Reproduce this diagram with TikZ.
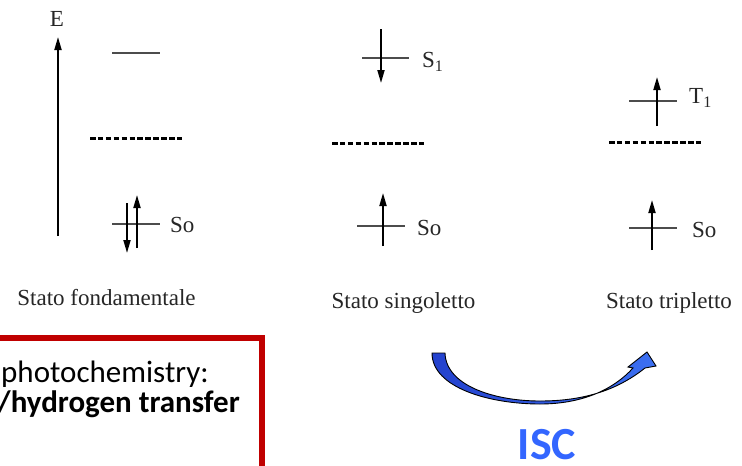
\documentclass[tikz,border=0pt]{standalone}
\usepackage{fontspec}
\setmainfont{Liberation Serif}
\newfontfamily\calib{Carlito}
\usetikzlibrary{arrows.meta}
\definecolor{boxred}{RGB}{192,0,0}
\definecolor{iscblue}{RGB}{51,102,255}
\definecolor{arrowdark}{RGB}{35,65,205}
\definecolor{arrowlight}{RGB}{60,112,242}
\begin{document}
\begin{tikzpicture}[x=1pt,y=-1pt,
  level/.style={draw=black!70, line width=1.3pt},
  electron/.style={line width=1.8pt, -{Triangle[length=13pt,width=7pt]}},
  virtual/.style={line width=3pt, dash pattern=on 5.5pt off 2.4pt},
  lab/.style={font=\fontsize{23}{23}\selectfont, inner sep=0pt, text=black!85},
  calibtext/.style={font=\calib\fontsize{31}{31}\selectfont, inner sep=0pt, text=black},
]
\clip (0,0) rectangle (742,466);
\fill[white] (0,0) rectangle (742,466);

% energy axis
\coordinate (Ebot) at (58,236);
\coordinate (Etop) at (58,37);
\draw[electron] (Ebot) -- (Etop);
\node[lab, anchor=base] (E) at (57,26) {E};

% ground state (left)
\coordinate (Lhi1) at (112,53);  \coordinate (Lhi2) at (160,53);
\draw[level] (Lhi1) -- (Lhi2);
\coordinate (Ld1) at (90,138);   \coordinate (Ld2) at (183,138);
\draw[virtual] (Ld1) -- (Ld2);
\coordinate (Ls1) at (112,224);  \coordinate (Ls2) at (160,224);
\draw[level] (Ls1) -- (Ls2);
\coordinate (Lea) at (127,203);  \coordinate (Leb) at (127,253);
\draw[electron] (Lea) -- (Leb);
\coordinate (Lua) at (137,248);  \coordinate (Lub) at (137,195);
\draw[electron] (Lua) -- (Lub);
\node[lab, anchor=base west] (LSo) at (170,232) {So};
\node[lab, anchor=base] (Lcap) at (106.5,305) {Stato fondamentale};

% singlet state (middle)
\coordinate (Ms1) at (362,58);   \coordinate (Ms2) at (409,58);
\draw[level] (Ms1) -- (Ms2);
\coordinate (Mea) at (381,29);   \coordinate (Meb) at (381,83);
\draw[electron] (Mea) -- (Meb);
\node[lab, anchor=base west] (MS1) at (422,67) {S\raisebox{-4.5pt}{\fontsize{16}{16}\selectfont 1}};
\coordinate (Md1) at (332,143);  \coordinate (Md2) at (426,143);
\draw[virtual] (Md1) -- (Md2);
\coordinate (Mg1) at (357,226);  \coordinate (Mg2) at (405,226);
\draw[level] (Mg1) -- (Mg2);
\coordinate (Mua) at (383,246);  \coordinate (Mub) at (383,193);
\draw[electron] (Mua) -- (Mub);
\node[lab, anchor=base west] (MSo) at (417,235) {So};
\node[lab, anchor=base] (Mcap) at (403.5,308) {Stato singoletto};

% triplet state (right)
\coordinate (Rt1) at (629,101);  \coordinate (Rt2) at (677,101);
\draw[level] (Rt1) -- (Rt2);
\coordinate (Rua) at (657,126);  \coordinate (Rub) at (657,77);
\draw[electron] (Rua) -- (Rub);
\node[lab, anchor=base west] (RT1) at (689,103) {T\raisebox{-4.5pt}{\fontsize{16}{16}\selectfont 1}};
\coordinate (Rd1) at (609,142);  \coordinate (Rd2) at (702,142);
\draw[virtual] (Rd1) -- (Rd2);
\coordinate (Rg1) at (629,228);  \coordinate (Rg2) at (677,228);
\draw[level] (Rg1) -- (Rg2);
\coordinate (Rva) at (652,250);  \coordinate (Rvb) at (652,200);
\draw[electron] (Rva) -- (Rvb);
\node[lab, anchor=base west] (RSo) at (692,237) {So};
\node[lab, anchor=base] (Rcap) at (669,308) {Stato tripletto};

% red box with text
\draw[boxred, line width=5.5pt] (-20,338) rectangle (262,520);
\node[calibtext, anchor=base west] (photo) at (1,382) {photochemistry:};
\node[calibtext, font=\calib\bfseries\fontsize{31}{31}\selectfont, anchor=base east] (hydro) at (240,412) {/hydrogen transfer};

% ISC curved arrow
\path[draw=black, line width=0.9pt, left color=arrowdark, right color=arrowlight]
  (432,353) .. controls (432,388) and (490,404) .. (540,404)
  .. controls (583,404) and (614,389) .. (633,368)
  -- (628,367) -- (647,352) -- (656,366) -- (645,368)
  .. controls (615,392) and (580,401) .. (540,401)
  .. controls (495,401) and (446,386) .. (445,353) -- cycle;
\node[font=\calib\bfseries\fontsize{46}{46}\selectfont, text=iscblue, anchor=base, inner sep=0pt] (isc) at (547,459) {ISC};
\end{tikzpicture}
\end{document}
